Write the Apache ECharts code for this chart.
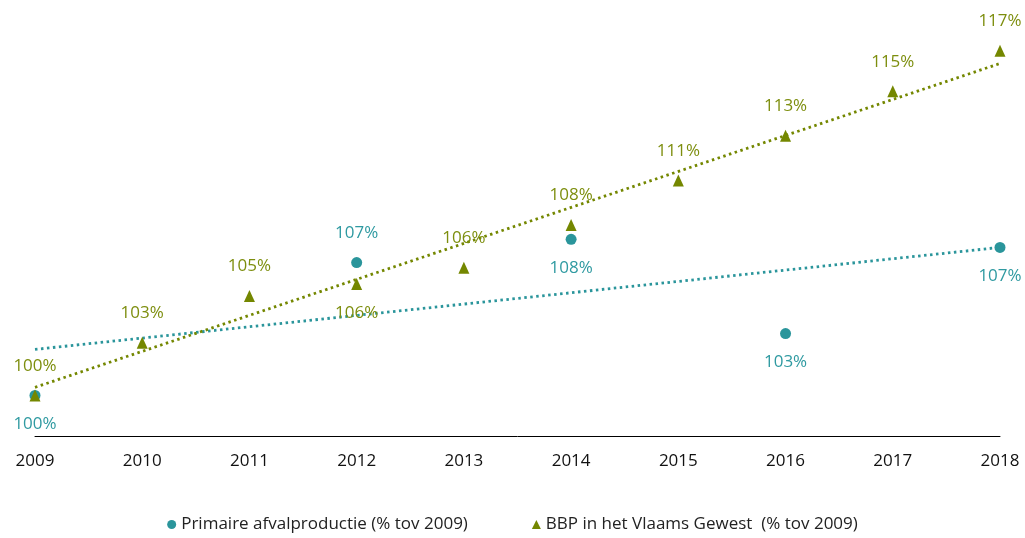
<!DOCTYPE html>
<html>
<head>
<meta charset="utf-8">
<script src="https://cdn.jsdelivr.net/npm/echarts@6/dist/echarts.min.js"></script>
<style>html,body{margin:0;padding:0;background:#fff}#c{width:1025px;height:538px}</style>
</head>
<body>
<div id="c"></div>
<script>
var years = ['2009','2010','2011','2012','2013','2014','2015','2016','2017','2018'];
var afvalYears = ['2009','2012','2014','2016','2018'];
var afvalValues = [100, 106.55, 107.7, 103.05, 107.3];
var afvalLabelPos = ['bottom','top','bottom','bottom','bottom'];
var bbpValues = [100, 102.6, 104.9, 105.5, 106.3, 108.4, 110.6, 112.8, 115.0, 117.0];
var bbpLabelPos = ['top','top','top','bottom','top','top','top','top','top','top'];
var afvalTrend = [102.27, 107.3];
var bbpTrend = [100.4, 116.37];
var seriesNames = ['Primaire afvalproductie (% tov 2009)', 'BBP in het Vlaams Gewest  (% tov 2009)'];

var teal = '#2A959B', tealLabel = '#2F9AA1';
var green = '#748700', greenLabel = '#7D8E0E';
var font = "'Open Sans', 'Liberation Sans', sans-serif";

function pts(xs, vs, pos, color) {
  return vs.map(function (v, i) {
    return {value: [xs[i], v], label: {position: pos[i], color: color}};
  });
}

var chart = echarts.init(document.getElementById('c'));
chart.setOption({
  animation: false,
  grid: {left: 35, right: 25, top: 0, bottom: 102},
  xAxis: {
    type: 'category', data: years, boundaryGap: false,
    axisLine: {lineStyle: {color: '#000', width: 1}},
    axisTick: {show: false},
    axisLabel: {color: '#111', fontSize: 17, margin: 17, fontFamily: font}
  },
  yAxis: {type: 'value', min: 98, max: 119.5, show: false, splitLine: {show: false}},
  legend: {
    bottom: 0, left: 'center', itemGap: 64, itemWidth: 9, itemHeight: 9,
    textStyle: {color: '#222', fontSize: 17, fontFamily: font},
    data: [{name: seriesNames[0], icon: 'circle'}, {name: seriesNames[1], icon: 'triangle'}]
  },
  series: [
    {
      name: seriesNames[0] + ' trend', type: 'line', symbol: 'none', silent: true,
      data: [[years[0], afvalTrend[0]], [years[years.length - 1], afvalTrend[1]]],
      lineStyle: {color: teal, width: 2.8, type: [2.5, 3.5]}, z: 1
    },
    {
      name: seriesNames[1] + ' trend', type: 'line', symbol: 'none', silent: true,
      data: [[years[0], bbpTrend[0]], [years[years.length - 1], bbpTrend[1]]],
      lineStyle: {color: green, width: 2.8, type: [2.5, 3.5]}, z: 1
    },
    {
      name: seriesNames[0], type: 'scatter', symbol: 'circle', symbolSize: 11,
      itemStyle: {color: teal, opacity: 1},
      label: {show: true, distance: 15, fontSize: 17, fontFamily: font,
        formatter: function (p) { return Math.round(p.value[1]) + '%'; }},
      data: pts(afvalYears, afvalValues, afvalLabelPos, tealLabel), z: 3
    },
    {
      name: seriesNames[1], type: 'scatter', symbol: 'triangle', symbolSize: [11, 12],
      itemStyle: {color: green, opacity: 1},
      label: {show: true, distance: 15, fontSize: 17, fontFamily: font,
        formatter: function (p) { return Math.round(p.value[1]) + '%'; }},
      data: pts(years, bbpValues, bbpLabelPos, greenLabel), z: 4
    }
  ]
});
</script>
</body>
</html>
